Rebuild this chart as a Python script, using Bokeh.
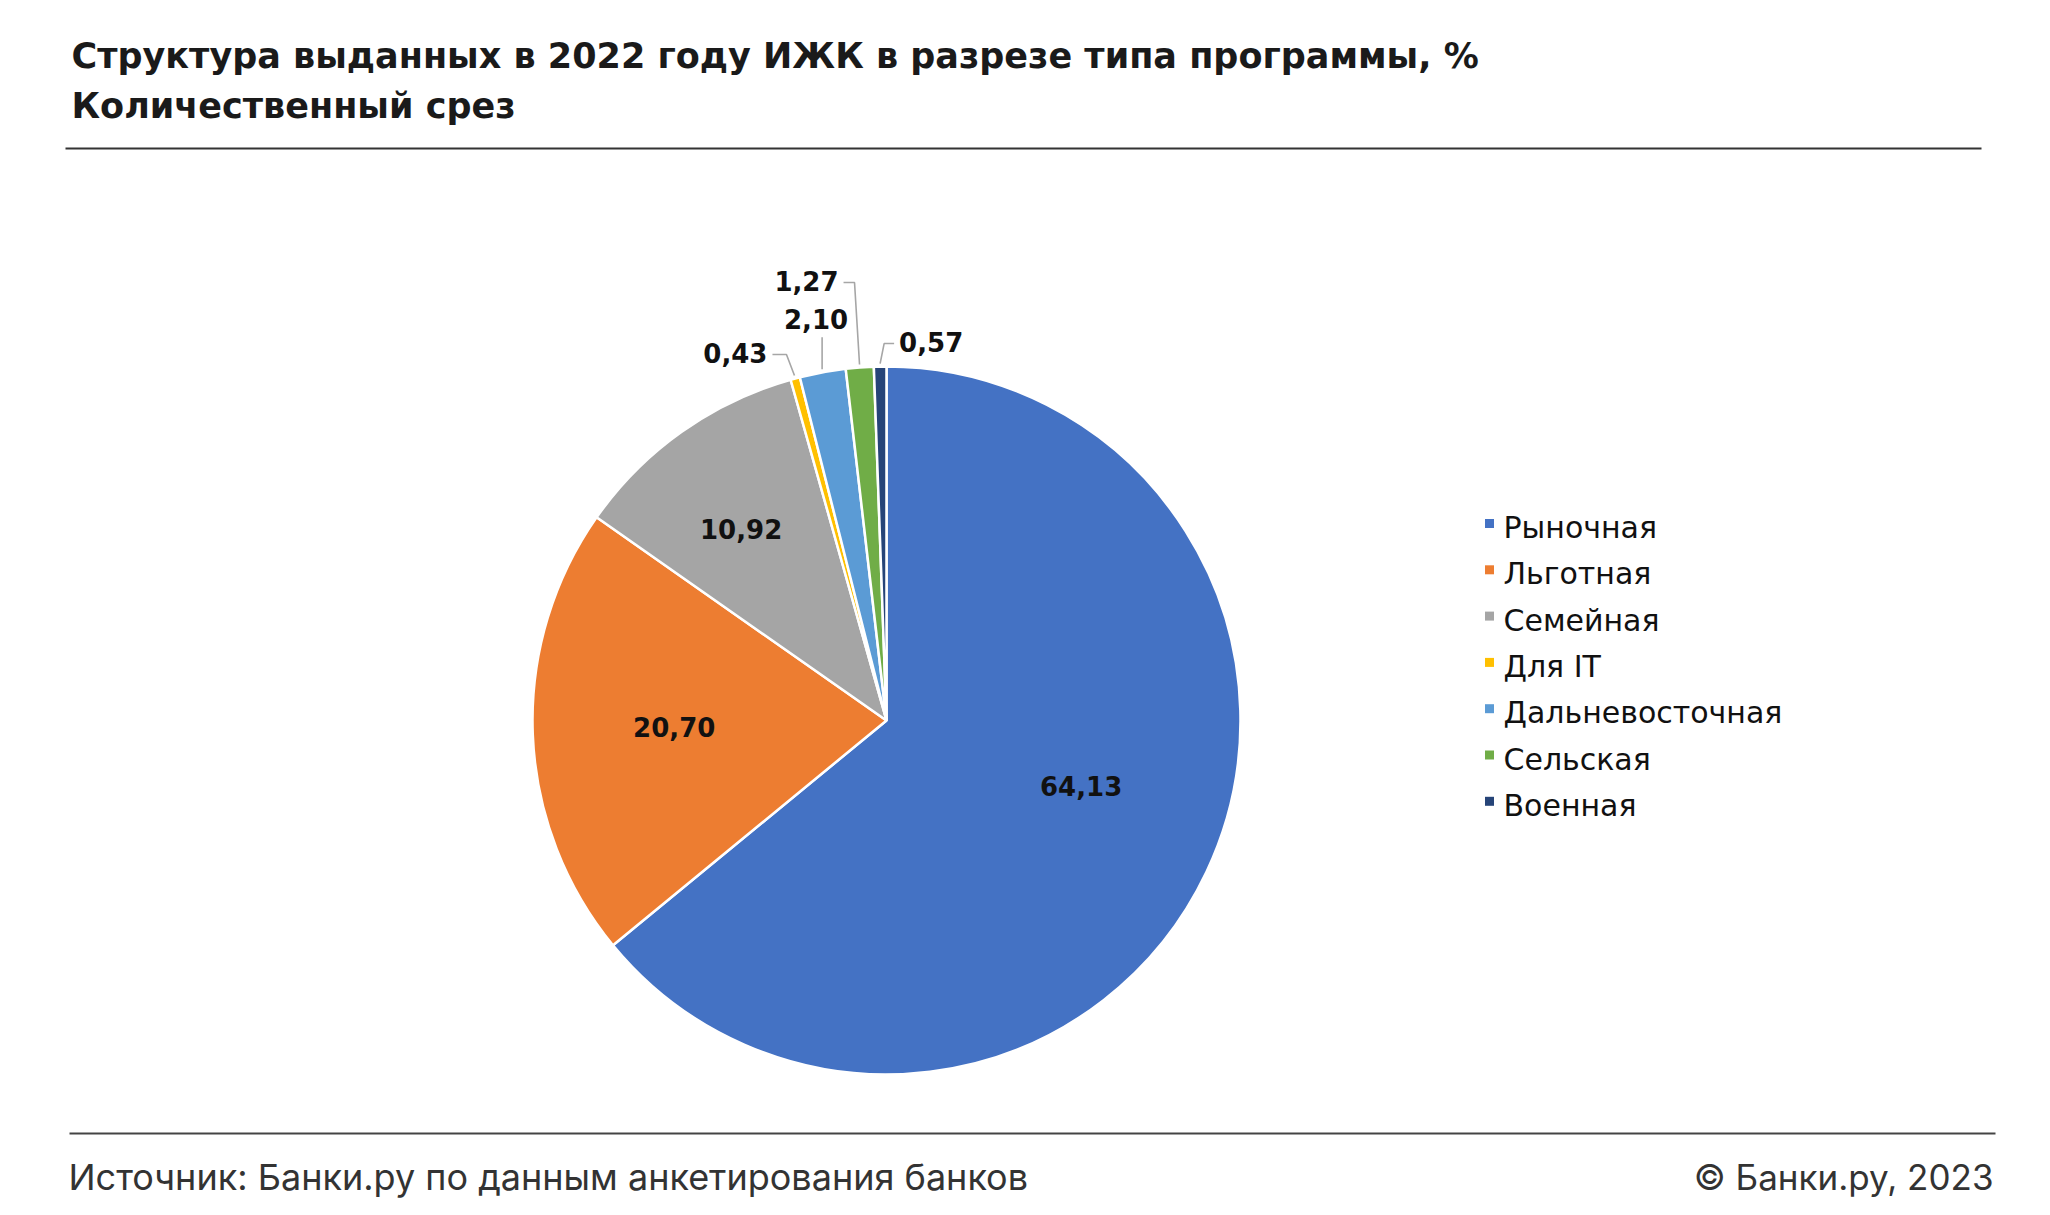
import numpy as np
from bokeh.plotting import figure
from bokeh.models import Range1d, ColumnDataSource
from bokeh.core.properties import value
from bokeh.embed import file_html
from bokeh.resources import INLINE

# ---- data ----
categories = ["Рыночная", "Льготная", "Семейная", "Для IT", "Дальневосточная", "Сельская", "Военная"]
shares = [64.13, 20.70, 10.92, 0.43, 2.10, 1.27, 0.57]
colors = ["#4472C4", "#ED7D31", "#A5A5A5", "#FFC000", "#5B9BD5", "#70AD47", "#264478"]
title_lines = ["Структура выданных в 2022 году ИЖК в разрезе типа программы, %",
               "Количественный срез"]
source_text = "Источник: Банки.ру по данным анкетирования банков"
copyright_text = "© Банки.ру, 2023"

# ---- layout (pixels, y measured from top) ----
W, H = 2050, 1215
CX, CY, R = 886, 720, 354
BOLD = "DejaVu Sans"
LEG = "DejaVu Sans"
REG = "Inter"

def Y(y):
    return H - y

p = figure(width=W, height=H, x_range=Range1d(0, W), y_range=Range1d(0, H),
           output_backend="svg", toolbar_location=None, min_border=0)
p.axis.visible = False
p.grid.visible = False
p.outline_line_color = None
p.background_fill_color = "white"
p.border_fill_color = "white"

vals = np.array(shares)
total = vals.sum()
frac = vals / total
cum = np.concatenate([[0], np.cumsum(frac)])
# clockwise from 12 o'clock
start_deg = 90 - cum[1:] * 360
end_deg = 90 - cum[:-1] * 360
mid_deg = (start_deg + end_deg) / 2

src = ColumnDataSource(dict(start=np.radians(start_deg), end=np.radians(end_deg), color=colors))
p.wedge(x=CX, y=Y(CY), radius=R, start_angle="start", end_angle="end",
        fill_color="color", line_color="white", line_width=2.5, source=src)

def fmt(v):
    return f"{v:.2f}".replace(".", ",")

LBL_SIZE = "26px"

# inside labels (first three)
inside_r = [0.58, 0.60, 0.68]
inside_dang = [6.7, -0.5, 1.8]
for i in range(3):
    a = np.radians(mid_deg[i] + inside_dang[i])
    x = CX + inside_r[i] * R * np.cos(a)
    y = Y(CY) + inside_r[i] * R * np.sin(a)
    p.text(x=[x], y=[y], text=[fmt(shares[i])], text_align="center", text_baseline="middle",
           text_font=value(BOLD), text_font_style="bold", text_font_size=LBL_SIZE, text_color="#111111")

# outside labels with leader lines: elbow offset (dx, dy_down), horizontal run, text side
out_idx = [3, 4, 5, 6]
elbow = {3: (-8, -21), 4: (0, -32), 5: (-5, -82), 6: (4, -20)}
hrun = {3: -14, 4: 0, 5: -11, 6: 10}
for i in out_idx:
    a = np.radians(mid_deg[i])
    rx = CX + (R + 3) * np.cos(a)
    ry = CY - (R + 3) * np.sin(a)
    ex, ey = rx + elbow[i][0], ry + elbow[i][1]
    hx = ex + hrun[i]
    p.line(x=[rx, ex, hx], y=[Y(ry), Y(ey), Y(ey)], line_color="#A6A6A6", line_width=1.6)
    if hrun[i] < 0:
        tx, ty, al = hx - 5, ey - 2, "right"
    elif hrun[i] > 0:
        tx, ty, al = hx + 5, ey - 2, "left"
    else:
        tx, ty, al = ex - 6, ey - 18, "center"
    p.text(x=[tx], y=[Y(ty)], text=[fmt(shares[i])], text_align=al, text_baseline="middle",
           text_font=value(BOLD), text_font_style="bold", text_font_size=LBL_SIZE, text_color="#111111")

# legend
LX, LY0, LDY = 1489, 527, 46.3
for k, (c, name) in enumerate(zip(colors, categories)):
    yy = LY0 + k * LDY
    p.scatter(x=[LX], y=[Y(yy - 4)], marker="square", size=9, fill_color=c, line_color=None)
    p.text(x=[LX + 14], y=[Y(yy)], text=[name], text_align="left", text_baseline="middle",
           text_font=value(LEG), text_font_size="30px", text_color="#111111")

# title
for k, t in enumerate(title_lines):
    p.text(x=[71], y=[Y(55 + k * 50)], text=[t], text_align="left", text_baseline="middle",
           text_font=value(BOLD), text_font_style="bold", text_font_size="35px", text_color="#1a1a1a")
p.line(x=[65, 1981], y=[Y(148), Y(148)], line_color="#333333", line_width=2)

# footer
p.line(x=[69, 1995], y=[Y(1133), Y(1133)], line_color="#444444", line_width=2)
p.text(x=[68], y=[Y(1176)], text=[source_text], text_align="left", text_baseline="middle",
       text_font=value(REG), text_font_size="36px", text_color="#333333")
p.text(x=[1993], y=[Y(1176)], text=[copyright_text], text_align="right", text_baseline="middle",
       text_font=value(REG), text_font_size="35px", text_color="#333333")

open("out.html", "w").write(file_html(p, INLINE))
